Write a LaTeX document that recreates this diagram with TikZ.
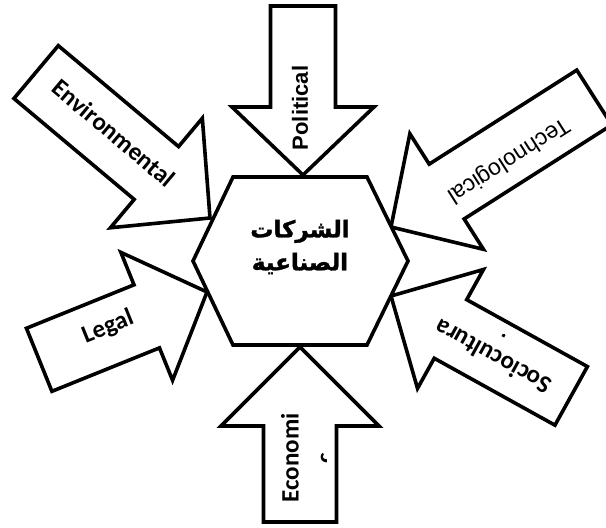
\documentclass[tikz,border=0pt]{standalone}
\usepackage{fontspec}
\setmainfont{Carlito}
\newfontfamily\arialfont{Liberation Sans}
\newfontfamily\arabicfont[Script=Arabic, BoldFeatures={FakeBold=1.5}]{DejaVu Sans}
\TeXXeTstate=1
\usepackage{tikz}
\usetikzlibrary{positioning}

% tip, angle, length, shaft width, head width, head length
\newcommand{\forcearrow}[6]{%
  \draw[forcebox, shift={#1}, rotate=#2] (0,0) -- (-#6,#5/2) -- (-#6,#4/2) -- (-#3,#4/2)
    -- (-#3,-#4/2) -- (-#6,-#4/2) -- (-#6,-#5/2) -- cycle;}

\begin{document}
\begin{tikzpicture}[x=1pt, y=1pt,
    forcebox/.style={draw, line width=3.6pt, fill=white},
    hexbox/.style={draw, line width=3.6pt, fill=white},
    factor/.style={font=\bfseries\fontsize{25}{30}\selectfont, inner sep=0pt},
    factorsans/.style={font=\arialfont\fontsize{23}{28}\selectfont, inner sep=0pt}
]
    \clip (0,0) rectangle (606,528);

    \coordinate (poltip) at (303,353);
    \coordinate (ecotip) at (300,181);
    \coordinate (envtip) at (210,310);
    \coordinate (techtip) at (391,301);
    \coordinate (legtip) at (207,236);
    \coordinate (soctip) at (391,232);

    \forcearrow{(poltip)}{-90}{169}{65}{142}{68}
    \forcearrow{(ecotip)}{90}{175}{73}{158}{79}
    \forcearrow{(envtip)}{-40}{227}{69}{143}{70}
    \forcearrow{(techtip)}{212.5}{241}{65}{137}{66}
    \forcearrow{(legtip)}{22}{181}{68}{138}{65}
    \forcearrow{(soctip)}{151}{206}{67}{136}{68}

    \draw[hexbox] (233,351) -- (367,351) -- (408,267) -- (367,183) -- (233,183) -- (193,267) -- cycle;
    \node[font=\arabicfont\bfseries\fontsize{23}{33}\selectfont, align=center] (firms) at (300,281)
        {\beginR الشركات\endR\\\beginR الصناعية\endR};

    \node[factorsans, font=\arialfont\bfseries\fontsize{22}{26}\selectfont, rotate=90] (pol) at (300,420) {Political};
    \node[factor, rotate=-40] (env) at (114,395) {Environmental};
    \node[factorsans, rotate=212.5] (tech) at (508,368) {Technological};
    \node[factor, rotate=22] (leg) at (108,201) {Legal};
    \node[factor, rotate=90] (eco) at (290,70) {Economi};
    \node[factor, rotate=151] (soc) at (493,171) {Sociocultura};

    \begin{scope}[shift={(eco)}, rotate=90, transform shape]
        \clip (-20,-36) rectangle (20,0);
        \node[factor] (ecoc) at (0,-37) {c};
    \end{scope}
    \begin{scope}[shift={(soc)}, rotate=151, transform shape]
        \clip (-20,-25.5) rectangle (20,0);
        \node[factor] (socl) at (0,-31) {l};
    \end{scope}
\end{tikzpicture}
\end{document}
